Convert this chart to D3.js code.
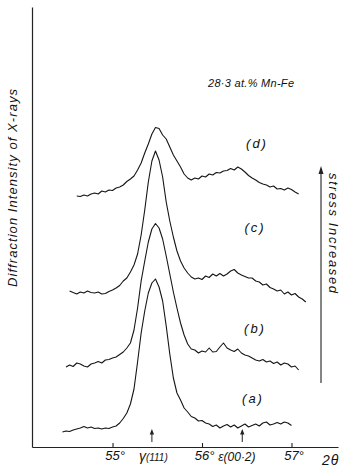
<!DOCTYPE html>
<html>
<head>
<meta charset="utf-8">
<script src="https://cdn.jsdelivr.net/npm/d3@7"></script>
<style>
  body { margin: 0; background: #fff; }
  svg text { font-family: "Liberation Sans", "DejaVu Sans", sans-serif; fill: #111; }
</style>
</head>
<body>
<div id="chart"></div>
<script>
// 2θ sampling step of the traces (deg)
const thetaStep = 0.04;

// tick labels on the 2θ axis
const tickValues = [55, 56, 57];

// peak positions marked below the traces
const peakMarks = [
  { theta: 55.44, name: "γ", hkl: "(111)" },
  { theta: 56.45, name: "ε", hkl: "(00·2)" }
];

// intensity traces (arb. units), one per stress level
const curveA = [15,16,15.5,17,18,19,20.5,19,20,18.5,19,18,19,18.5,20,21,24,28.5,34,43,
  58,85,114,136,154,164,168,160,146,121,93,69,54,47,39,35,30.5,29,26,26.5,
  24,23,20.5,22,19,21,22.5,20,22,19,21,23,20,21.5,23,21,24,25,22,23,
  24.5,23,25,24,21.5];
const curveB = [80,82,80.5,84,83,81,80,83,84,85.5,84,87,87.5,89,90,92.5,95,99,104,117,
  139,166,186,205,218,223.5,219,208,191,173,155,139,124,112,103,98,97,94,96,95,
  99,95,95.5,100,104,99,97,95.5,98,94,92,91,89,87,86,87.5,85,86,83.5,85,
  82,84,83,80,81,77];
const curveC = [156,154.5,153,155,154,156,154.5,154,155,153,153.5,155.5,157,159,161.5,166,169,175,182,193,
  212,237,265,286,296,287,270,245,226,210,196,186,179,174,170,168,169,167.5,171,169.5,
  173,171,173.5,171,173,176,177.5,174,172,170.5,169,169,166,165,162,163,159.5,158,156,157,
  153,155,152,153.5,150,148,145];
const curveD = [251,250.5,252,251,253,254,253,256,255,257,256.5,259,260,262,265.5,268,271,277,284,294,
  303,313,319.5,318.5,312,308,300,292,286,280,273,269,267,269,268,271,270,273,272,274.5,
  274,276,276.5,278.5,277,280,278,275,271.5,269,267,264.5,263,262,260,261,258,258.5,257,259,
  257.5,255,253];

// first 2θ of each trace
const curveStarts = [54.44, 54.48, 54.52, 54.60];
const curveLabels = ["(a)", "(b)", "(c)", "(d)"];

const width = 354, height = 468;
const svg = d3.select("#chart").append("svg")
  .attr("width", width)
  .attr("height", height);

const x = d3.scaleLinear().domain([54.1, 57.52]).range([32, 338]);
const y = d3.scaleLinear().domain([0, 440]).range([447, 7]);

// axes
const xAxis = svg.append("g")
  .attr("transform", "translate(0," + y(0) + ")")
  .call(d3.axisBottom(x)
    .tickValues(tickValues)
    .tickSize(-4)
    .tickSizeOuter(0)
    .tickPadding(4)
    .tickFormat(d => d + "°"));
xAxis.select(".domain").attr("stroke", "#222").attr("stroke-width", 1.2);
xAxis.selectAll(".tick line").attr("stroke", "#222").attr("stroke-width", 1.1);
xAxis.selectAll(".tick text")
  .attr("x", 2)
  .style("font-size", "13px")
  .style("font-style", "italic")
  .style("font-family", "'Liberation Sans', sans-serif")
  .attr("fill", "#111");

const yAxis = svg.append("g")
  .attr("transform", "translate(" + x(54.1) + ",0)")
  .call(d3.axisLeft(y).tickValues([]).tickSizeOuter(0));
yAxis.select(".domain").attr("stroke", "#222").attr("stroke-width", 1.2);

// traces
const curves = [curveA, curveB, curveC, curveD];
const line = d3.line()
  .x(d => x(d[0]))
  .y(d => y(d[1]));

curves.forEach((vals, k) => {
  const pts = vals.map((v, j) => [curveStarts[k] + j * thetaStep, v]);
  svg.append("path")
    .datum(pts)
    .attr("d", line)
    .attr("fill", "none")
    .attr("stroke", "#151515")
    .attr("stroke-width", 1.1)
    .attr("stroke-linejoin", "round");
});

// curve labels
const labelPos = [[253, 403], [255, 333], [255, 232], [257, 148]];
curveLabels.forEach((t, k) => {
  svg.append("text")
    .attr("x", labelPos[k][0])
    .attr("y", labelPos[k][1])
    .attr("text-anchor", "middle")
    .style("font-size", "13px")
    .style("font-style", "italic")
    .style("letter-spacing", "2px")
    .text(t);
});

// peak markers: small arrows plus phase labels
peakMarks.forEach((m, k) => {
  const px = x(m.theta);
  svg.append("line")
    .attr("x1", px).attr("x2", px)
    .attr("y1", 442).attr("y2", 433)
    .attr("stroke", "#222").attr("stroke-width", 1);
  svg.append("path")
    .attr("d", "M" + (px - 2.2) + ",434.5 L" + px + ",429 L" + (px + 2.2) + ",434.5 Z")
    .attr("fill", "#222");
  const t = svg.append("text")
    .attr("x", k === 0 ? px - 13 : px - 24)
    .attr("y", 461)
    .style("font-style", "italic");
  t.append("tspan").style("font-size", k === 0 ? "14px" : "12px").text(m.name);
  t.append("tspan").style("font-size", k === 0 ? "10px" : "12px").text(m.hkl);
});

// 2θ axis title
svg.append("text")
  .attr("x", 322)
  .attr("y", 465)
  .style("font-size", "14px")
  .style("font-style", "italic")
  .style("letter-spacing", "1px")
  .text("2θ");

// y axis title
svg.append("text")
  .attr("transform", "translate(17,188) rotate(-90)")
  .attr("text-anchor", "middle")
  .attr("textLength", 198)
  .attr("lengthAdjust", "spacing")
  .style("font-size", "13px")
  .style("font-style", "italic")
  .text("Diffraction Intensity of X-rays");

// composition
svg.append("text")
  .attr("x", 208)
  .attr("y", 87)
  .attr("textLength", 86)
  .attr("lengthAdjust", "spacing")
  .style("font-size", "11px")
  .style("font-style", "italic")
  .text("28·3 at.% Mn-Fe");

// stress arrow
svg.append("line")
  .attr("x1", 321).attr("x2", 321)
  .attr("y1", 383).attr("y2", 172)
  .attr("stroke", "#222").attr("stroke-width", 1.1);
svg.append("path")
  .attr("d", "M318.5,174 L321,166 L323.5,174 Z")
  .attr("fill", "#222");
svg.append("text")
  .attr("transform", "translate(329,233) rotate(90)")
  .attr("text-anchor", "middle")
  .attr("textLength", 120)
  .attr("lengthAdjust", "spacing")
  .style("font-size", "13px")
  .style("font-style", "italic")
  .text("stress  Increased");
</script>
</body>
</html>
